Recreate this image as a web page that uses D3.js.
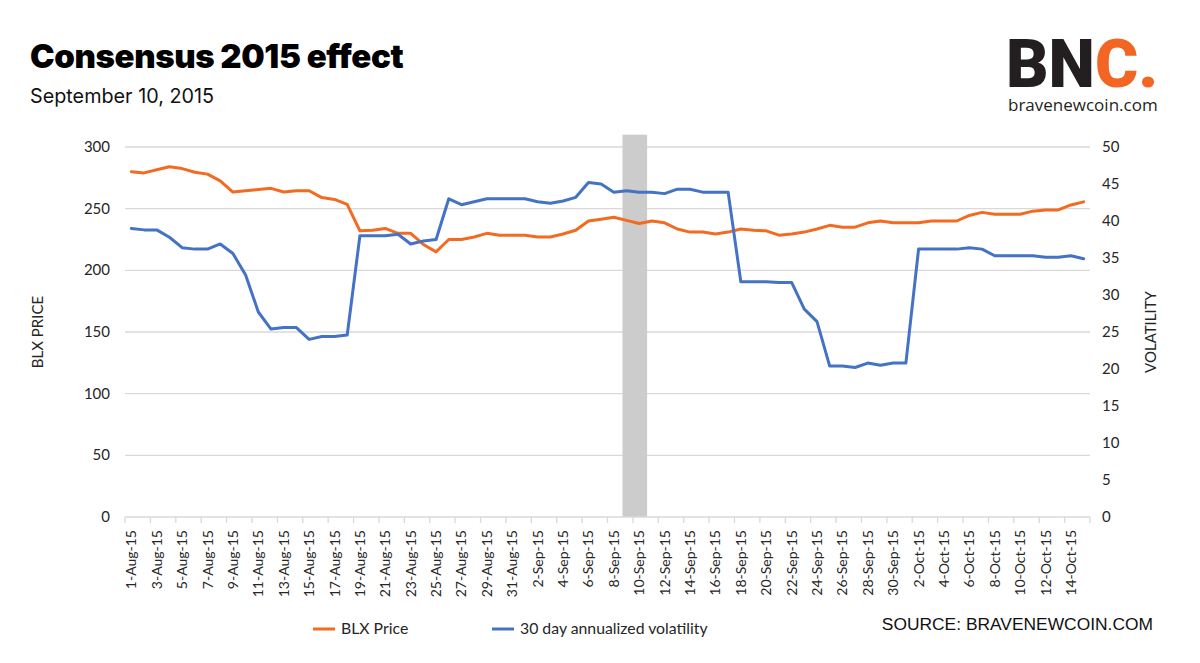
<!DOCTYPE html>
<html>
<head>
<meta charset="utf-8">
<script src="https://cdn.jsdelivr.net/npm/d3@7"></script>
<style>
  body { margin: 0; background: #fff; }
  svg text { font-family: Lato, "Open Sans", sans-serif; }
</style>
</head>
<body>
<div id="chart"></div>
<script>
// categories (daily, Aug 1 - Oct 15 2015)
const dates = [
  "1-Aug-15","2-Aug-15","3-Aug-15","4-Aug-15","5-Aug-15","6-Aug-15","7-Aug-15","8-Aug-15","9-Aug-15","10-Aug-15",
  "11-Aug-15","12-Aug-15","13-Aug-15","14-Aug-15","15-Aug-15","16-Aug-15","17-Aug-15","18-Aug-15","19-Aug-15","20-Aug-15",
  "21-Aug-15","22-Aug-15","23-Aug-15","24-Aug-15","25-Aug-15","26-Aug-15","27-Aug-15","28-Aug-15","29-Aug-15","30-Aug-15",
  "31-Aug-15","1-Sep-15","2-Sep-15","3-Sep-15","4-Sep-15","5-Sep-15","6-Sep-15","7-Sep-15","8-Sep-15","9-Sep-15",
  "10-Sep-15","11-Sep-15","12-Sep-15","13-Sep-15","14-Sep-15","15-Sep-15","16-Sep-15","17-Sep-15","18-Sep-15","19-Sep-15",
  "20-Sep-15","21-Sep-15","22-Sep-15","23-Sep-15","24-Sep-15","25-Sep-15","26-Sep-15","27-Sep-15","28-Sep-15","29-Sep-15",
  "30-Sep-15","1-Oct-15","2-Oct-15","3-Oct-15","4-Oct-15","5-Oct-15","6-Oct-15","7-Oct-15","8-Oct-15","9-Oct-15",
  "10-Oct-15","11-Oct-15","12-Oct-15","13-Oct-15","14-Oct-15","15-Oct-15"
];

const blxPrice = [
  280, 279, 281.5, 284, 282.5, 279.5, 278, 272.5, 263.5, 264.5,
  265.5, 266.5, 263.5, 264.5, 264.5, 259, 257.5, 253.5, 232, 232.5,
  234, 230, 230, 221, 215, 225, 225, 227, 230, 228.5,
  228.5, 228.5, 227, 227, 229.5, 232.5, 240, 241.5, 243, 240.5,
  238, 240, 238.5, 233.5, 231, 231, 229.5, 231, 233.5, 232.5,
  232, 228.5, 229.5, 231, 233.5, 236.5, 235, 235, 238.5, 240,
  238.5, 238.5, 238.5, 240, 240, 240, 244.5, 247, 245.5, 245.5,
  245.5, 248, 249, 249, 253, 255.5
];

const volatility = [
  39.0, 38.8, 38.8, 37.8, 36.4, 36.2, 36.2, 36.9, 35.6, 32.7,
  27.7, 25.4, 25.6, 25.6, 24.0, 24.4, 24.4, 24.6, 38.0, 38.0,
  38.0, 38.2, 36.9, 37.3, 37.5, 43.0, 42.2, 42.6, 43.0, 43.0,
  43.0, 43.0, 42.6, 42.4, 42.7, 43.2, 45.2, 45.0, 43.9, 44.1,
  43.9, 43.9, 43.7, 44.3, 44.3, 43.9, 43.9, 43.9, 31.8, 31.8,
  31.8, 31.7, 31.7, 28.1, 26.4, 20.4, 20.4, 20.2, 20.8, 20.5,
  20.8, 20.8, 36.2, 36.2, 36.2, 36.2, 36.4, 36.2, 35.3, 35.3,
  35.3, 35.3, 35.1, 35.1, 35.3, 34.9
];

const priceTicks = [0, 50, 100, 150, 200, 250, 300];
const volTicks = [0, 5, 10, 15, 20, 25, 30, 35, 40, 45, 50];

// Consensus 2015 marker (column on price axis)
const eventDate = "10-Sep-15";
const eventHeight = 310;

const W = 1200, H = 663;
const margin = { top: 147, right: 110, bottom: 146, left: 125 };

const svg = d3.select("#chart").append("svg")
  .attr("width", W).attr("height", H)
  .style("background", "#fff");

const x = d3.scaleBand().domain(dates).range([margin.left, W - margin.right]).padding(0);
const bw = x.bandwidth();
const yP = d3.scaleLinear().domain([0, 300]).range([H - margin.bottom, margin.top]);
const yV = d3.scaleLinear().domain([0, 50]).range([H - margin.bottom, margin.top]);

// gridlines
svg.append("g")
  .selectAll("line")
  .data(priceTicks.slice(1))
  .join("line")
  .attr("x1", margin.left).attr("x2", W - margin.right)
  .attr("y1", d => yP(d)).attr("y2", d => yP(d))
  .attr("stroke", "#d9d9d9").attr("stroke-width", 1.3);

// event band
svg.append("rect")
  .attr("x", x(eventDate) - bw * 0.82)
  .attr("width", bw * 1.94)
  .attr("y", yP(eventHeight))
  .attr("height", yP(0) - yP(eventHeight))
  .attr("fill", "#cccccc");

// bottom axis line + ticks every other category
const axisY = yP(0);
svg.append("line")
  .attr("x1", margin.left).attr("x2", W - margin.right)
  .attr("y1", axisY).attr("y2", axisY)
  .attr("stroke", "#d9d9d9").attr("stroke-width", 1.3);

const tickXs = dates.filter((d, i) => i % 2 === 0).map(d => x(d)).concat([W - margin.right]);
svg.append("g").selectAll("line")
  .data(tickXs).join("line")
  .attr("x1", d => d).attr("x2", d => d)
  .attr("y1", axisY).attr("y2", axisY + 6)
  .attr("stroke", "#d9d9d9").attr("stroke-width", 1.3);

// x labels (rotated)
svg.append("g").selectAll("text")
  .data(dates.filter((d, i) => i % 2 === 0)).join("text")
  .attr("transform", d => `translate(${x(d) + bw / 2 + 5},${axisY + 13}) rotate(-90)`)
  .attr("text-anchor", "end")
  .style("font-size", "14px")
  .style("fill", "#262626")
  .text(d => d);

// y axes labels
svg.append("g").selectAll("text")
  .data(priceTicks).join("text")
  .attr("x", 110).attr("y", d => yP(d) + 5)
  .attr("text-anchor", "end")
  .style("font-size", "15px").style("fill", "#262626")
  .text(d => d);

svg.append("g").selectAll("text")
  .data(volTicks).join("text")
  .attr("x", 1102).attr("y", d => yV(d) + 5)
  .attr("text-anchor", "start")
  .style("font-size", "15px").style("fill", "#262626")
  .text(d => d);

svg.append("text")
  .attr("transform", `translate(43,${(yP(0) + yP(300)) / 2}) rotate(-90)`)
  .attr("text-anchor", "middle")
  .style("font-size", "15px").style("fill", "#262626")
  .text("BLX PRICE");

svg.append("text")
  .attr("transform", `translate(1156,${(yP(0) + yP(300)) / 2}) rotate(-90)`)
  .attr("text-anchor", "middle")
  .style("font-size", "15px").style("fill", "#262626")
  .text("VOLATILITY");

// lines
const orange = "#f26b21", blue = "#4472c4";
const cx = (d, i) => x(dates[i]) + bw / 2;

svg.append("path")
  .datum(blxPrice)
  .attr("fill", "none").attr("stroke", orange).attr("stroke-width", 3)
  .attr("stroke-linejoin", "round").attr("stroke-linecap", "round")
  .attr("d", d3.line().x(cx).y(d => yP(d)));

svg.append("path")
  .datum(volatility)
  .attr("fill", "none").attr("stroke", blue).attr("stroke-width", 3)
  .attr("stroke-linejoin", "round").attr("stroke-linecap", "round")
  .attr("d", d3.line().x(cx).y(d => yV(d)));

// legend
const legend = [
  { label: "BLX Price", color: orange, x: 313 },
  { label: "30 day annualized volatility", color: blue, x: 492 }
];
const lg = svg.append("g").selectAll("g").data(legend).join("g")
  .attr("transform", d => `translate(${d.x},629)`);
lg.append("line").attr("x1", 0).attr("x2", 22).attr("stroke", d => d.color).attr("stroke-width", 3);
lg.append("text").attr("x", 28).attr("y", 5)
  .style("font-size", "15.8px").style("fill", "#262626")
  .text(d => d.label);

svg.append("text")
  .attr("x", 1153).attr("y", 630)
  .attr("text-anchor", "end")
  .style("font-family", "'Liberation Sans', Arial, sans-serif")
  .style("font-size", "17.4px").style("fill", "#111")
  .text("SOURCE: BRAVENEWCOIN.COM");

// title
svg.append("text")
  .attr("x", 30).attr("y", 68)
  .style("font-family", "Inter, Roboto, sans-serif")
  .style("font-size", "33px").style("font-weight", 900)
  .style("letter-spacing", "-0.4px")
  .style("fill", "#000")
  .text("Consensus 2015 effect");

svg.append("text")
  .attr("x", 30).attr("y", 103)
  .style("font-family", "Inter, Roboto, sans-serif")
  .style("font-size", "19.8px")
  .style("fill", "#111")
  .text("September 10, 2015");

// logo
const logo = svg.append("text")
  .attr("x", 1006).attr("y", 87)
  .style("font-family", "Roboto, Inter, sans-serif")
  .style("font-size", "66px").style("font-weight", 900)
  .style("letter-spacing", "0px");
logo.append("tspan").style("fill", "#231f20").text("BN");
logo.append("tspan").style("fill", "#f26522").text("C.");

svg.append("text")
  .attr("x", 1008).attr("y", 111)
  .style("font-family", "'Open Sans', sans-serif")
  .style("font-size", "17px")
  .style("fill", "#231f20")
  .text("bravenewcoin.com");
</script>
</body>
</html>
